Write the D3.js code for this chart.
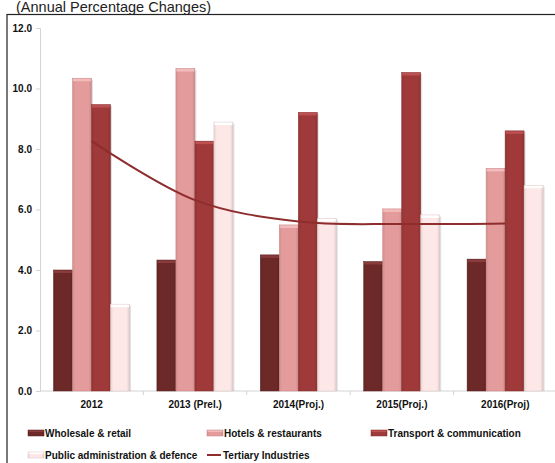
<!DOCTYPE html>
<html>
<head>
<meta charset="utf-8">
<script src="https://cdn.jsdelivr.net/npm/d3@7"></script>
<style>
  html, body { margin: 0; padding: 0; background: #fff; }
  svg { display: block; font-family: "Liberation Sans", Arial, sans-serif; }
</style>
</head>
<body>
<svg id="chart" width="555" height="463"></svg>
<script>
// Sector growth, annual percentage changes
const categories = ["2012", "2013 (Prel.)", "2014(Proj.)", "2015(Proj.)", "2016(Proj)"];
const seriesNames = ["Wholesale & retail", "Hotels & restaurants", "Transport & communication", "Public administration & defence"];
const wholesale = [4.0, 4.33, 4.5, 4.28, 4.36];
const hotels = [10.34, 10.66, 5.49, 6.02, 7.36];
const transport = [9.47, 8.26, 9.21, 10.53, 8.6];
const publicAdmin = [2.87, 8.89, 5.7, 5.82, 6.8];
const tertiary = [8.26, 6.31, 5.6, 5.52, 5.54];
const lineName = "Tertiary Industries";
const yTicks = [0, 2, 4, 6, 8, 10, 12];

const seriesValues = [wholesale, hotels, transport, publicAdmin];
const fills = ["#6d2828", "#e49b9b", "#a03939", "#fde7e7"];
const caps = ["#8a3b3b", "#f2bcbc", "#bd5050", "#ffffff"];
const strokes = ["#5a2020", "#c98585", "#862f2f", "#d9c4c4"];
const lineColor = "#8e2d2d";

const svg = d3.select("#chart");

// Heading and frame
svg.append("text").attr("x", 16).attr("y", 12)
  .attr("font-size", 14.5).attr("fill", "#222")
  .text("(Annual Percentage Changes)");
svg.append("rect").attr("x", 7).attr("y", 14.5).attr("width", 560).attr("height", 460)
  .attr("fill", "none").attr("stroke", "#222").attr("stroke-width", 1.2);

const x0 = d3.scaleBand().domain(categories).range([40, 557]).padding(0);
const x1 = d3.scaleBand().domain(seriesNames).range([13.5, 89.5]).padding(0);
const y = d3.scaleLinear().domain([0, 12]).range([391, 28]);

// Gradients for the bevelled look
const defs = svg.append("defs");
fills.forEach((c, i) => {
  const g = defs.append("linearGradient").attr("id", "g" + i).attr("x1", 0).attr("x2", 1).attr("y1", 0).attr("y2", 0);
  g.append("stop").attr("offset", "0%").attr("stop-color", d3.color(c).darker(0.25));
  g.append("stop").attr("offset", "15%").attr("stop-color", c);
  g.append("stop").attr("offset", "85%").attr("stop-color", c);
  g.append("stop").attr("offset", "100%").attr("stop-color", d3.color(c).darker(0.35));
});

// Y axis
const yAxis = svg.append("g").attr("transform", "translate(40,0)")
  .call(d3.axisLeft(y).tickValues(yTicks).tickFormat(d3.format(".1f")).tickSize(4).tickPadding(4));
yAxis.select(".domain").attr("stroke", "#d4d4d4");
yAxis.selectAll(".tick line").attr("stroke", "#d4d4d4");
yAxis.selectAll("text").attr("font-size", 10).attr("font-weight", "bold").attr("fill", "#111")
  .attr("font-family", "Liberation Sans, Arial, sans-serif");

// X axis with ticks between categories
const xAxisG = svg.append("g").attr("transform", "translate(0,391)");
xAxisG.append("line").attr("x1", 40).attr("x2", 557).attr("y1", 0).attr("y2", 0).attr("stroke", "#d4d4d4");
xAxisG.selectAll(".sep").data(categories.slice(1)).join("line")
  .attr("x1", d => x0(d)).attr("x2", d => x0(d)).attr("y1", 0).attr("y2", 4).attr("stroke", "#d4d4d4");
xAxisG.selectAll(".lbl").data(categories).join("text")
  .attr("x", d => x0(d) + x0.bandwidth() / 2).attr("y", 17)
  .attr("text-anchor", "middle").attr("font-size", 10).attr("font-weight", "bold").attr("fill", "#111")
  .text(d => d);

// Bars
const groups = svg.append("g").selectAll("g").data(categories).join("g")
  .attr("transform", d => `translate(${x0(d)},0)`);
groups.each(function(cat, ci) {
  const g = d3.select(this);
  seriesNames.forEach((s, si) => {
    const v = seriesValues[si][ci];
    const bx = x1(s), bw = x1.bandwidth();
    // soft shadow
    g.append("rect").attr("x", bx + 1.5).attr("y", y(v) + 1.5).attr("width", bw).attr("height", y(0) - y(v) - 1.5)
      .attr("fill", "#000").attr("opacity", 0.12);
    g.append("rect").attr("x", bx).attr("y", y(v)).attr("width", bw).attr("height", y(0) - y(v))
      .attr("fill", `url(#g${si})`).attr("stroke", strokes[si]).attr("stroke-width", 0.5);
    g.append("rect").attr("x", bx + 0.5).attr("y", y(v) + 0.5).attr("width", bw - 1).attr("height", 2.5)
      .attr("fill", caps[si]);
  });
});

// Tertiary industries line
const line = d3.line()
  .x((d, i) => x0(categories[i]) + x0.bandwidth() / 2)
  .y(d => y(d))
  .curve(d3.curveCatmullRom.alpha(0.5));
svg.append("path").datum(tertiary).attr("d", line)
  .attr("fill", "none").attr("stroke", lineColor).attr("stroke-width", 2);

// Legend
const legend = svg.append("g").attr("font-size", 10).attr("font-weight", "bold").attr("fill", "#111");
const legendItems = [
  { name: seriesNames[0], i: 0, x: 28, y: 433 },
  { name: seriesNames[1], i: 1, x: 207, y: 433 },
  { name: seriesNames[2], i: 2, x: 371, y: 433 },
  { name: seriesNames[3], i: 3, x: 28, y: 455 },
];
legendItems.forEach(it => {
  legend.append("rect").attr("x", it.x).attr("y", it.y - 3).attr("width", 16).attr("height", 6)
    .attr("fill", `url(#g${it.i})`).attr("stroke", strokes[it.i]).attr("stroke-width", 0.5);
  legend.append("rect").attr("x", it.x + 0.5).attr("y", it.y - 2.5).attr("width", 15).attr("height", 1.5)
    .attr("fill", caps[it.i]);
  legend.append("text").attr("x", it.x + 17).attr("y", it.y + 3.5).text(it.name);
});
legend.append("line").attr("x1", 207).attr("x2", 221).attr("y1", 455).attr("y2", 455)
  .attr("stroke", lineColor).attr("stroke-width", 2);
legend.append("text").attr("x", 223).attr("y", 458.5).text(lineName);
</script>
</body>
</html>
